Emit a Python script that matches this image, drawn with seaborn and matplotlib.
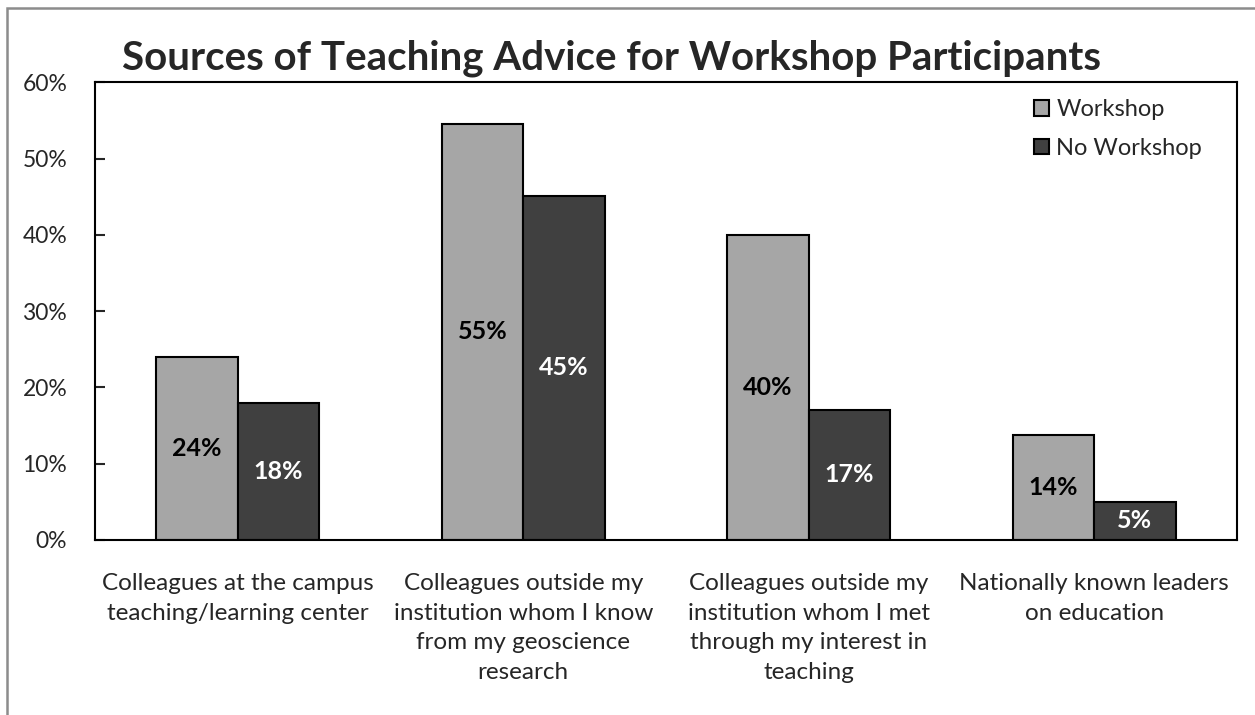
import pandas as pd
import numpy as np
import matplotlib.pyplot as plt
import seaborn as sns
from matplotlib.patches import Rectangle

# Data (percent)
categories = [
    "Colleagues at the campus\nteaching/learning center",
    "Colleagues outside my\ninstitution whom I know\nfrom my geoscience\nresearch",
    "Colleagues outside my\ninstitution whom I met\nthrough my interest in\nteaching",
    "Nationally known leaders\non education",
]
workshop = [24.0, 54.6, 40.0, 13.7]
no_workshop = [17.9, 45.1, 17.1, 5.0]
series_names = ["Workshop", "No Workshop"]
y_ticks = [0, 10, 20, 30, 40, 50, 60]

df = pd.DataFrame({
    "source": categories * 2,
    "group": [series_names[0]] * 4 + [series_names[1]] * 4,
    "pct": workshop + no_workshop,
})

sns.set_theme(style="white")
plt.rcParams["font.family"] = ["Lato", "DejaVu Sans"]

fig = plt.figure(figsize=(12.55, 7.15), dpi=100)
ax = fig.add_axes([0.0757, 0.2448, 0.91, 0.640])

sns.barplot(data=df, x="source", y="pct", hue="group", order=categories,
            hue_order=series_names, palette=["#A6A6A6", "#404040"],
            width=0.57, edgecolor="black", linewidth=1.5, saturation=1,
            ax=ax)

# value labels centred in the bars
label_colors = ["black", "white"]
for cont, col in zip(ax.containers, label_colors):
    ax.bar_label(cont, labels=[f"{int(v + 0.5)}%" for v in cont.datavalues],
                 label_type="center", color=col, fontsize=18, fontweight="bold")

ax.set_ylim(0, 60)
ax.set_yticks(y_ticks)
ax.set_yticklabels([f"{t}%" for t in y_ticks], fontsize=16.5)
ax.set_xlabel("")
ax.set_ylabel("")
ax.tick_params(axis="x", length=0, labelsize=17.5, pad=24)
for lbl in ax.get_xticklabels():
    lbl.set_linespacing(1.5)
ax.tick_params(axis="y", direction="in", length=7, width=1.5, left=True, pad=20)
for s in ax.spines.values():
    s.set_color("black")
    s.set_linewidth(1.5)

fig.text(0.487, 1 - 58 / 715, "Sources of Teaching Advice for Workshop Participants",
         fontsize=29, fontweight="bold", ha="center", va="center")

leg = ax.legend(loc="upper right", bbox_to_anchor=(0.988, 1.01), frameon=False,
                fontsize=17, handlelength=0.65, handleheight=0.65,
                handletextpad=0.3, labelspacing=0.75)

# grey outer chart frame (cropped on right/bottom)
fig.patches.append(Rectangle((7 / 1255, -0.1), 1.2, 1 - 8 / 715 + 0.1,
                             transform=fig.transFigure, fill=False,
                             edgecolor="#8C8C8C", linewidth=1.8))

plt.savefig("out.png", dpi=100)
